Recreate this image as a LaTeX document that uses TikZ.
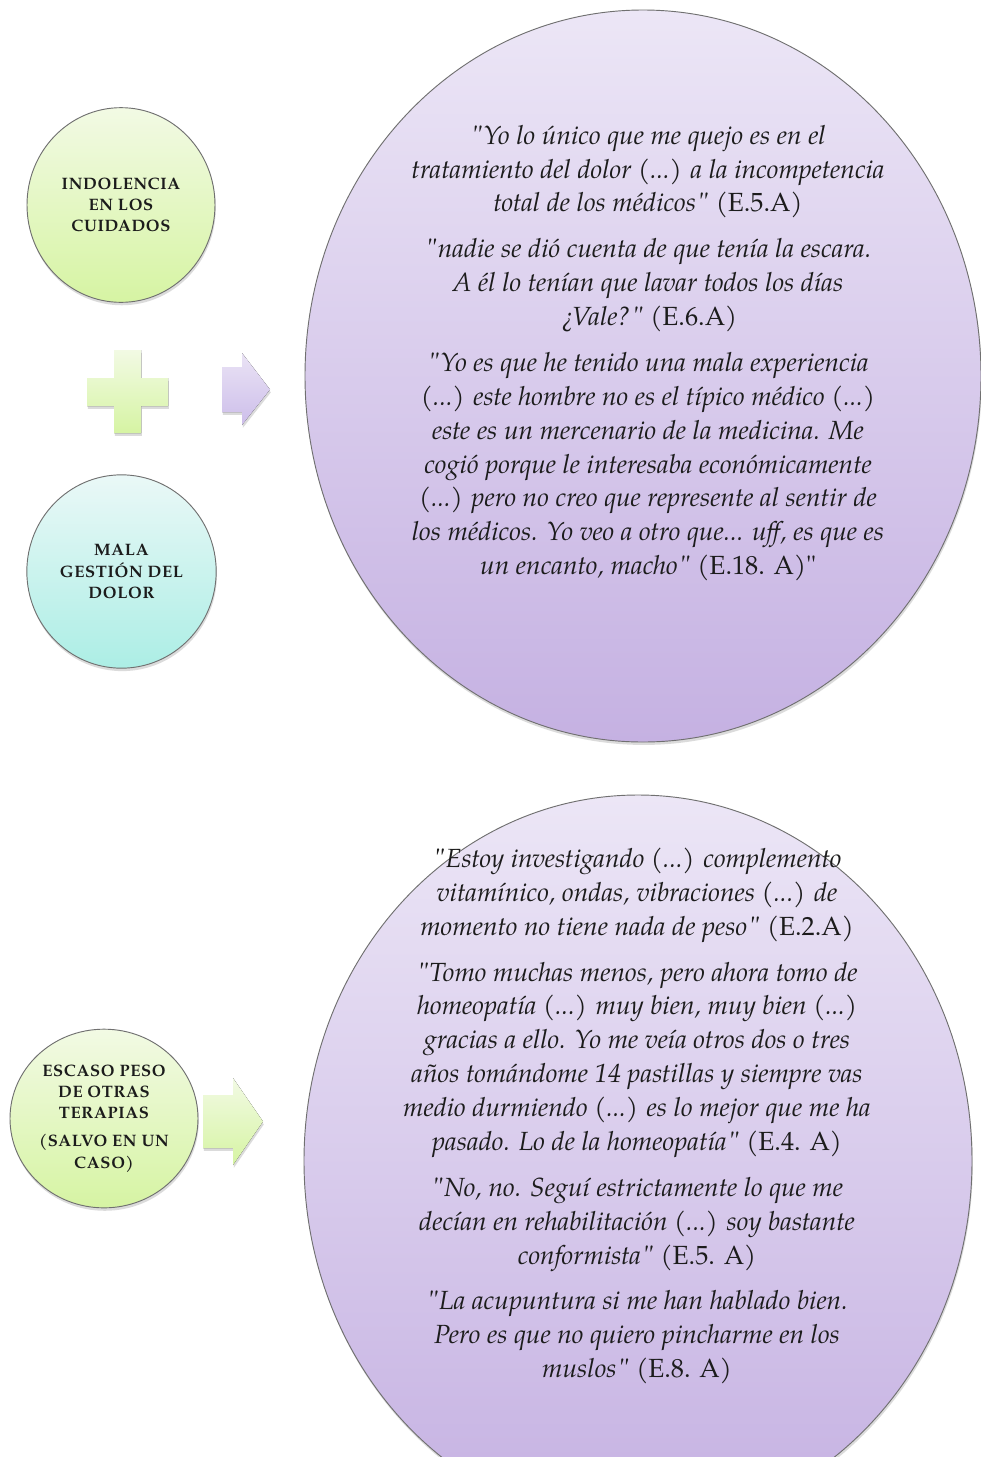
\documentclass[tikz,border=0pt]{standalone}
\usepackage{fontspec}
\setmainfont{TeX Gyre Pagella}[Ligatures=TeXOff]
\usetikzlibrary{shapes.geometric,shadows}

\definecolor{lavtop}{HTML}{ECE6F6}
\definecolor{lavbot}{HTML}{C5B1E2}
\definecolor{grntop}{HTML}{F2FAE4}
\definecolor{grnbot}{HTML}{D6F4A3}
\definecolor{cyntop}{HTML}{EAF8F7}
\definecolor{cynbot}{HTML}{ACEEE5}
\definecolor{arrtop}{HTML}{EAE3F5}
\definecolor{arrbot}{HTML}{CDBEEA}
\definecolor{rim}{HTML}{707070}
\definecolor{ink}{HTML}{1C1C1C}

\tikzset{
  softshadow/.style={drop shadow={opacity=0.28, shadow xshift=0.6pt, shadow yshift=-2.2pt}},
  bigdisc/.style={ellipse, draw=rim, line width=0.7pt, top color=lavtop, bottom color=lavbot,
                  softshadow, inner sep=0pt},
  smalldisc/.style={ellipse, draw=rim, line width=0.7pt, inner sep=0pt, softshadow,
                  text=ink, align=center,
                  font=\fontsize{12.4}{16}\selectfont\bfseries\addfontfeature{LetterSpace=4}},
  greendisc/.style={smalldisc, top color=grntop, bottom color=grnbot},
  cyandisc/.style={smalldisc, top color=cyntop, bottom color=cynbot},
  quotetext/.style={align=center, text=ink, inner sep=0pt,
                 font=\fontsize{19.7}{25.4}\selectfont},
  plusshape/.style={top color=grntop, bottom color=grnbot, softshadow},
  purplearrow/.style={top color=arrtop, bottom color=arrbot, softshadow},
  greenarrow/.style={top color=grntop, bottom color=grnbot, softshadow},
}

\begin{document}
\begin{tikzpicture}[x=0.75pt, y=-0.75pt]
\useasboundingbox (0,0) rectangle (981,1457);
\fill[white] (0,0) rectangle (981,1457);
\clip (0,0) rectangle (981,1457);

% ---- upper group ----
\node[greendisc, minimum width=141pt, minimum height=146pt] (indolencia) at (121,205)
  {INDOLENCIA\\EN LOS\\CUIDADOS};
\node[cyandisc, minimum width=142pt, minimum height=145pt] (mala) at (121.5,571.5)
  {MALA\\GESTIÓN DEL\\DOLOR};

\fill[plusshape] (114,350) -- (141,350) -- (141,378) -- (168,378) -- (168,406) -- (141,406)
  -- (141,433) -- (114,433) -- (114,406) -- (87,406) -- (87,378) -- (114,378) -- cycle;
\fill[purplearrow] (222,367) -- (242,367) -- (242,353) -- (270,389.5) -- (242,425)
  -- (242,412) -- (222,412) -- cycle;

\node[bigdisc, minimum width=507pt, minimum height=549pt] (quotesA) at (643,376) {};
\node[quotetext] (quotesAtext) at (648,353) {%
  {\itshape "Yo lo único que me quejo es en el}\\
  {\itshape tratamiento del dolor (...) a la incompetencia}\\
  {\itshape total de los médicos"} (E.5.A)\\[9pt]
  {\itshape "nadie se dió cuenta de que tenía la escara.}\\
  {\itshape A él lo tenían que lavar todos los días}\\
  {\itshape ¿Vale?"} (E.6.A)\\[9pt]
  {\itshape "Yo es que he tenido una mala experiencia}\\
  {\itshape (...) este hombre no es el típico médico (...)}\\
  {\itshape este es un mercenario de la medicina. Me}\\
  {\itshape cogió porque le interesaba económicamente}\\
  {\itshape (...) pero no creo que represente al sentir de}\\
  {\itshape los médicos. Yo veo a otro que... uff, es que es}\\
  {\itshape un encanto, macho"} (E.18. A)"};

% ---- lower group ----
\node[greendisc, minimum width=141pt, minimum height=134pt] (escaso) at (104,1118.5)
  {ESCASO PESO\\DE OTRAS\\TERAPIAS\\[5pt](SALVO EN UN\\CASO)};
\fill[greenarrow] (203,1095) -- (233,1095) -- (233,1078) -- (263,1121.5) -- (233,1165)
  -- (233,1148) -- (203,1148) -- cycle;

\node[bigdisc, minimum width=501pt, minimum height=549pt] (quotesB) at (638,1161) {};
\node[quotetext] (quotesBtext) at (637,1116) {%
  {\itshape "Estoy investigando (...) complemento}\\
  {\itshape vitamínico, ondas, vibraciones (...) de}\\
  {\itshape momento no tiene nada de peso"} (E.2.A)\\[9pt]
  {\itshape "Tomo muchas menos, pero ahora tomo de}\\
  {\itshape homeopatía (...) muy bien, muy bien (...)}\\
  {\itshape gracias a ello. Yo me veía otros dos o tres}\\
  {\itshape años tomándome 14 pastillas y siempre vas}\\
  {\itshape medio durmiendo (...) es lo mejor que me ha}\\
  {\itshape pasado. Lo de la homeopatía"} (E.4. A)\\[9pt]
  {\itshape "No, no. Seguí estrictamente lo que me}\\
  {\itshape decían en rehabilitación (...) soy bastante}\\
  {\itshape conformista"} (E.5. A)\\[9pt]
  {\itshape "La acupuntura si me han hablado bien.}\\
  {\itshape Pero es que no quiero pincharme en los}\\
  {\itshape muslos"} (E.8. A)};
\end{tikzpicture}
\end{document}
